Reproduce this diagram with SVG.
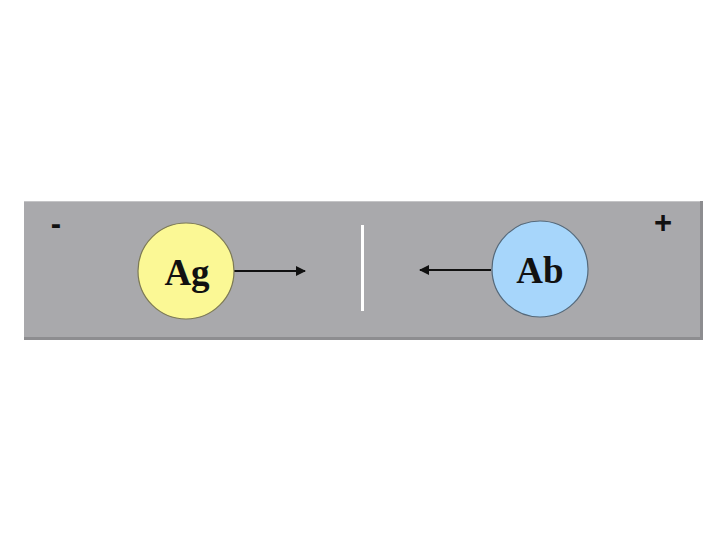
<svg xmlns="http://www.w3.org/2000/svg" width="720" height="540" viewBox="0 0 720 540">
<defs>
<style>
.lbl{font-family:"Liberation Serif","Times New Roman",serif;font-weight:bold;font-size:37px;fill:#111;text-anchor:middle}
.sign{font-family:"Liberation Sans",Arial,sans-serif;font-weight:bold;font-size:31px;fill:#111;text-anchor:middle}
.conn{stroke:#111;stroke-width:2;fill:none}
</style>
<marker id="ah2" viewBox="0 0 10 10" refX="9" refY="5" markerWidth="10" markerHeight="10" orient="auto" markerUnits="userSpaceOnUse">
<path d="M0,0 L10,5 L0,10 z" fill="#111"/>
</marker>
</defs>
<rect width="720" height="540" fill="#fff"/>
<g id="gel">
<rect x="24" y="201" width="679" height="139" fill="#8d8d90"/>
<rect x="24" y="201" width="676" height="136" fill="#a9a9ac"/>
<line x1="24" y1="201.5" x2="700" y2="201.5" stroke="#c4c4c6" stroke-width="1"/>
<text class="sign" x="56" y="234">-</text>
<text class="sign" x="663" y="233">+</text>
<rect x="361" y="225" width="3" height="86" fill="#fff"/>
</g>
<g id="connectors">
<line class="conn" x1="234" y1="271" x2="305" y2="271" marker-end="url(#ah2)"/>
<line class="conn" x1="491" y1="270" x2="420" y2="270" marker-end="url(#ah2)"/>
</g>
<g id="ag">
<circle cx="186" cy="271" r="48" fill="#fbf895" stroke="#7d7a55" stroke-width="1.2"/>
<text class="lbl" x="187" y="285">Ag</text>
</g>
<g id="ab">
<circle cx="540" cy="269" r="48" fill="#a7d6fb" stroke="#55697a" stroke-width="1.2"/>
<text class="lbl" x="540" y="283">Ab</text>
</g>
</svg>
